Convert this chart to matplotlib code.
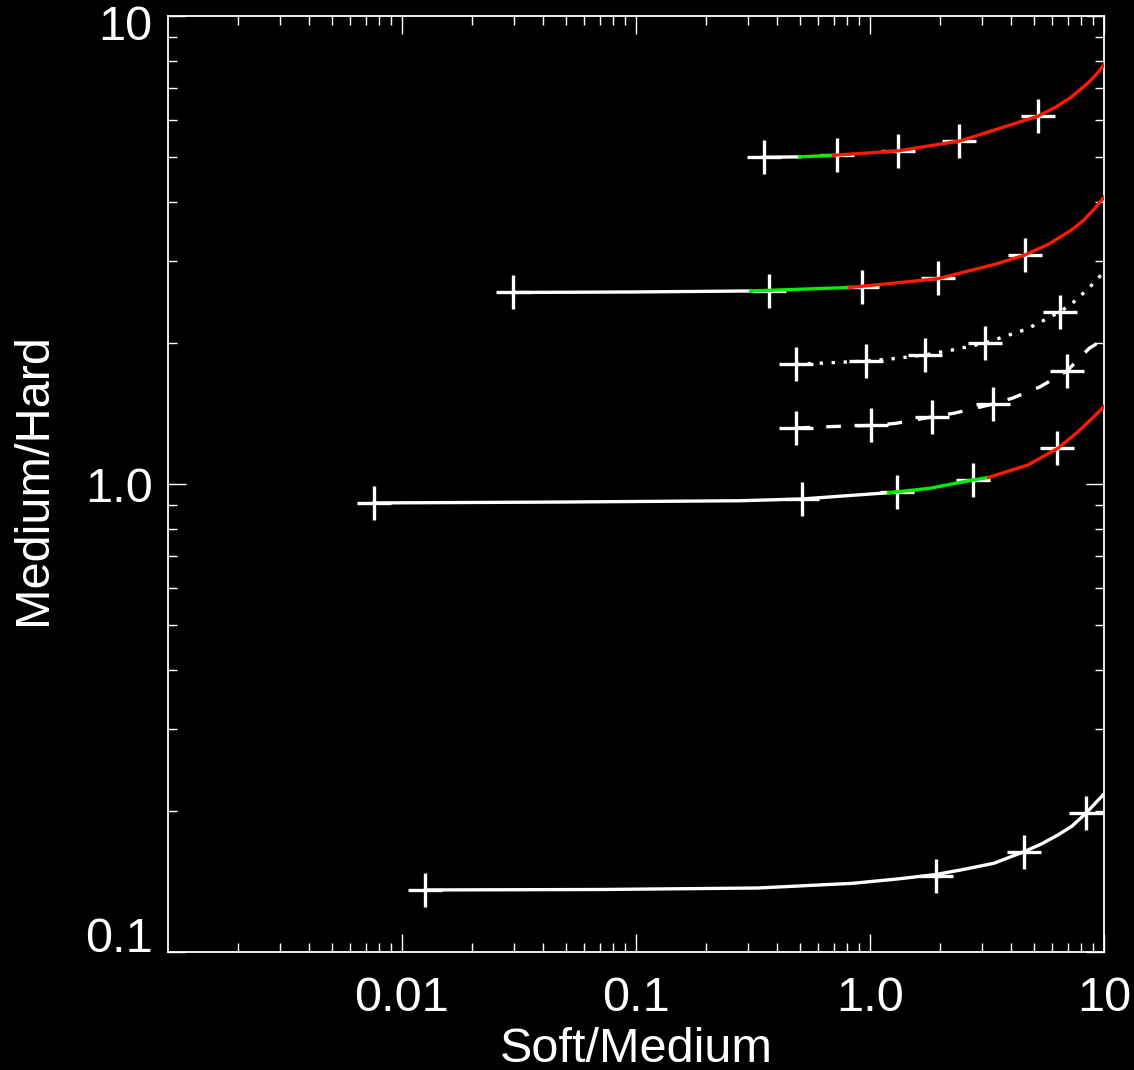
import matplotlib
matplotlib.use("Agg")
import numpy as np
import matplotlib.pyplot as plt
from matplotlib.ticker import NullFormatter, LogLocator
from matplotlib.transforms import ScaledTranslation

plt.rcParams["font.family"] = ["Liberation Sans", "DejaVu Sans"]

# hardness ratio tracks (Soft/Medium vs Medium/Hard)
# track A (top, white -> green -> red)
a_x = [0.351, 0.50, 0.70, 1.0, 1.32, 1.8, 2.44, 3.73, 5.22, 6.23, 7.22, 8.54, 9.27, 10]
a_y = [4.99, 5.00, 5.04, 5.10, 5.15, 5.28, 5.41, 5.79, 6.11, 6.39, 6.70, 7.19, 7.50, 7.86]
a_green = (0.50, 0.70)
a_px = [0.351, 0.721, 1.315, 2.40, 5.22]
a_py = [4.996, 5.05, 5.15, 5.41, 6.11]

# track B
b_x = [0.0299, 0.0946, 0.309, 0.818, 1.32, 1.95, 2.44, 3.45, 4.59, 5.82, 7.22, 8.13, 9.06, 10]
b_y = [2.566, 2.572, 2.585, 2.630, 2.692, 2.746, 2.824, 2.951, 3.085, 3.257, 3.482, 3.648, 3.86, 4.10]
b_green = (0.309, 0.818)
b_px = [0.0299, 0.369, 0.922, 1.95, 4.59]
b_py = [2.566, 2.585, 2.64, 2.75, 3.09]

# track C (dotted)
c_x = [0.481, 0.604, 0.96, 1.25, 1.71, 2.33, 3.10, 4.69, 6.48, 7.36, 8.63, 10]
c_y = [1.805, 1.811, 1.831, 1.852, 1.886, 1.940, 2.001, 2.144, 2.331, 2.440, 2.624, 2.84]
c_px = [0.481, 0.96, 1.71, 3.10, 6.48]
c_py = [1.805, 1.831, 1.886, 2.001, 2.331]

# track D (dashed)
d_x = [0.481, 0.70, 1.007, 1.28, 1.84, 2.31, 3.35, 4.08, 5.32, 6.95, 8.63, 10]
d_y = [1.317, 1.327, 1.334, 1.347, 1.391, 1.418, 1.482, 1.527, 1.612, 1.744, 1.948, 2.04]
d_px = [0.481, 1.007, 1.84, 3.35, 6.95]
d_py = [1.317, 1.334, 1.391, 1.482, 1.744]

# track E
e_x = [0.0076, 0.0475, 0.280, 0.511, 1.20, 1.8, 2.75, 3.22, 4.73, 6.35, 7.01, 7.74, 9.06, 10]
e_y = [0.911, 0.915, 0.921, 0.929, 0.958, 0.979, 1.020, 1.033, 1.098, 1.192, 1.241, 1.293, 1.393, 1.463]
e_green = (1.20, 3.22)
e_px = [0.0076, 0.511, 1.30, 2.75, 6.29]
e_py = [0.911, 0.929, 0.961, 1.020, 1.194]

# track F (bottom, white)
f_x = [0.01258, 0.0705, 0.331, 0.843, 1.34, 1.91, 2.44, 3.38, 4.55, 5.38, 6.35, 7.30, 8.37, 9.2, 10]
f_y = [0.1357, 0.1360, 0.1370, 0.1402, 0.1434, 0.1464, 0.1497, 0.1547, 0.1638, 0.170, 0.1778,
       0.1858, 0.1979, 0.2082, 0.2176]
f_px = [0.01258, 1.91, 4.55, 8.37]
f_py = [0.1357, 0.1455, 0.1638, 0.1979]

x_ticks = [0.01, 0.1, 1.0, 10]
x_labels = ["0.01", "0.1", "1.0", "10"]
y_ticks = [0.1, 1.0, 10]
y_labels = ["0.1", "1.0", "10"]

LW = 2.4
fig = plt.figure(figsize=(11.34, 10.70), dpi=100, facecolor="black")
ax = fig.add_axes([168 / 1134, 118 / 1070, 936 / 1134, 936 / 1070])
ax.set_facecolor("black")
ax.set_xscale("log")
ax.set_yscale("log")


def crosses(px, py):
    ax.plot(px, py, ls="none", marker="+", ms=24.5, mew=2.4, color="white", zorder=2)


def coloured_track(xs, ys, green):
    xs = np.array(xs)
    ys = np.array(ys)
    lo, hi = green
    m = xs <= lo
    ax.plot(xs[m], ys[m], color="white", lw=LW, zorder=3)
    m = (xs >= lo) & (xs <= hi)
    ax.plot(xs[m], ys[m], color="#00ee00", lw=LW, zorder=3)
    m = xs >= hi
    ax.plot(xs[m], ys[m], color="#ff1a00", lw=LW, zorder=3)


coloured_track(a_x, a_y, a_green)
crosses(a_px, a_py)
coloured_track(b_x, b_y, b_green)
crosses(b_px, b_py)
ax.plot(c_x, c_y, color="white", lw=LW, ls=(0, (1.0, 2.6)), zorder=3)
crosses(c_px, c_py)
ax.plot(d_x, d_y, color="white", lw=LW, ls=(0, (4.4, 4.8)), zorder=3)
crosses(d_px, d_py)
coloured_track(e_x, e_y, e_green)
crosses(e_px, e_py)
ax.plot(f_x, f_y, color="white", lw=LW, zorder=3)
crosses(f_px, f_py)

ax.set_xlim(0.001, 10)
ax.set_ylim(0.1, 10)

ax.set_xticks(x_ticks, x_labels)
ax.set_yticks(y_ticks, y_labels)
ax.xaxis.set_minor_locator(LogLocator(base=10, subs=np.arange(2, 10)))
ax.yaxis.set_minor_locator(LogLocator(base=10, subs=np.arange(2, 10)))
ax.xaxis.set_minor_formatter(NullFormatter())
ax.yaxis.set_minor_formatter(NullFormatter())

ax.tick_params(which="both", direction="in", top=True, right=True,
               colors="white", width=1.0, labelsize=35)
ax.tick_params(which="major", length=13)
ax.tick_params(which="minor", length=6.5)
ax.tick_params(axis="x", which="major", pad=17)
ax.tick_params(axis="y", which="major", pad=11)

# IDL style: end labels pulled inside the axis range
ylabs = ax.get_yticklabels()
ylabs[0].set_verticalalignment("baseline")
ylabs[-1].set_verticalalignment("center")
ylabs[-1].set_transform(ylabs[-1].get_transform()
                        + ScaledTranslation(0, -0.115, fig.dpi_scale_trans))

for s in ax.spines.values():
    s.set_color("white")
    s.set_linewidth(1.3)

ax.set_xlabel("Soft/Medium", fontsize=35, color="white")
ax.set_ylabel("Medium/Hard", fontsize=35, color="white")
ax.xaxis.set_label_coords(0.5, -0.080)
ax.yaxis.set_label_coords(-0.12, 0.505)

fig.savefig("out.png", dpi=100, facecolor="black")
